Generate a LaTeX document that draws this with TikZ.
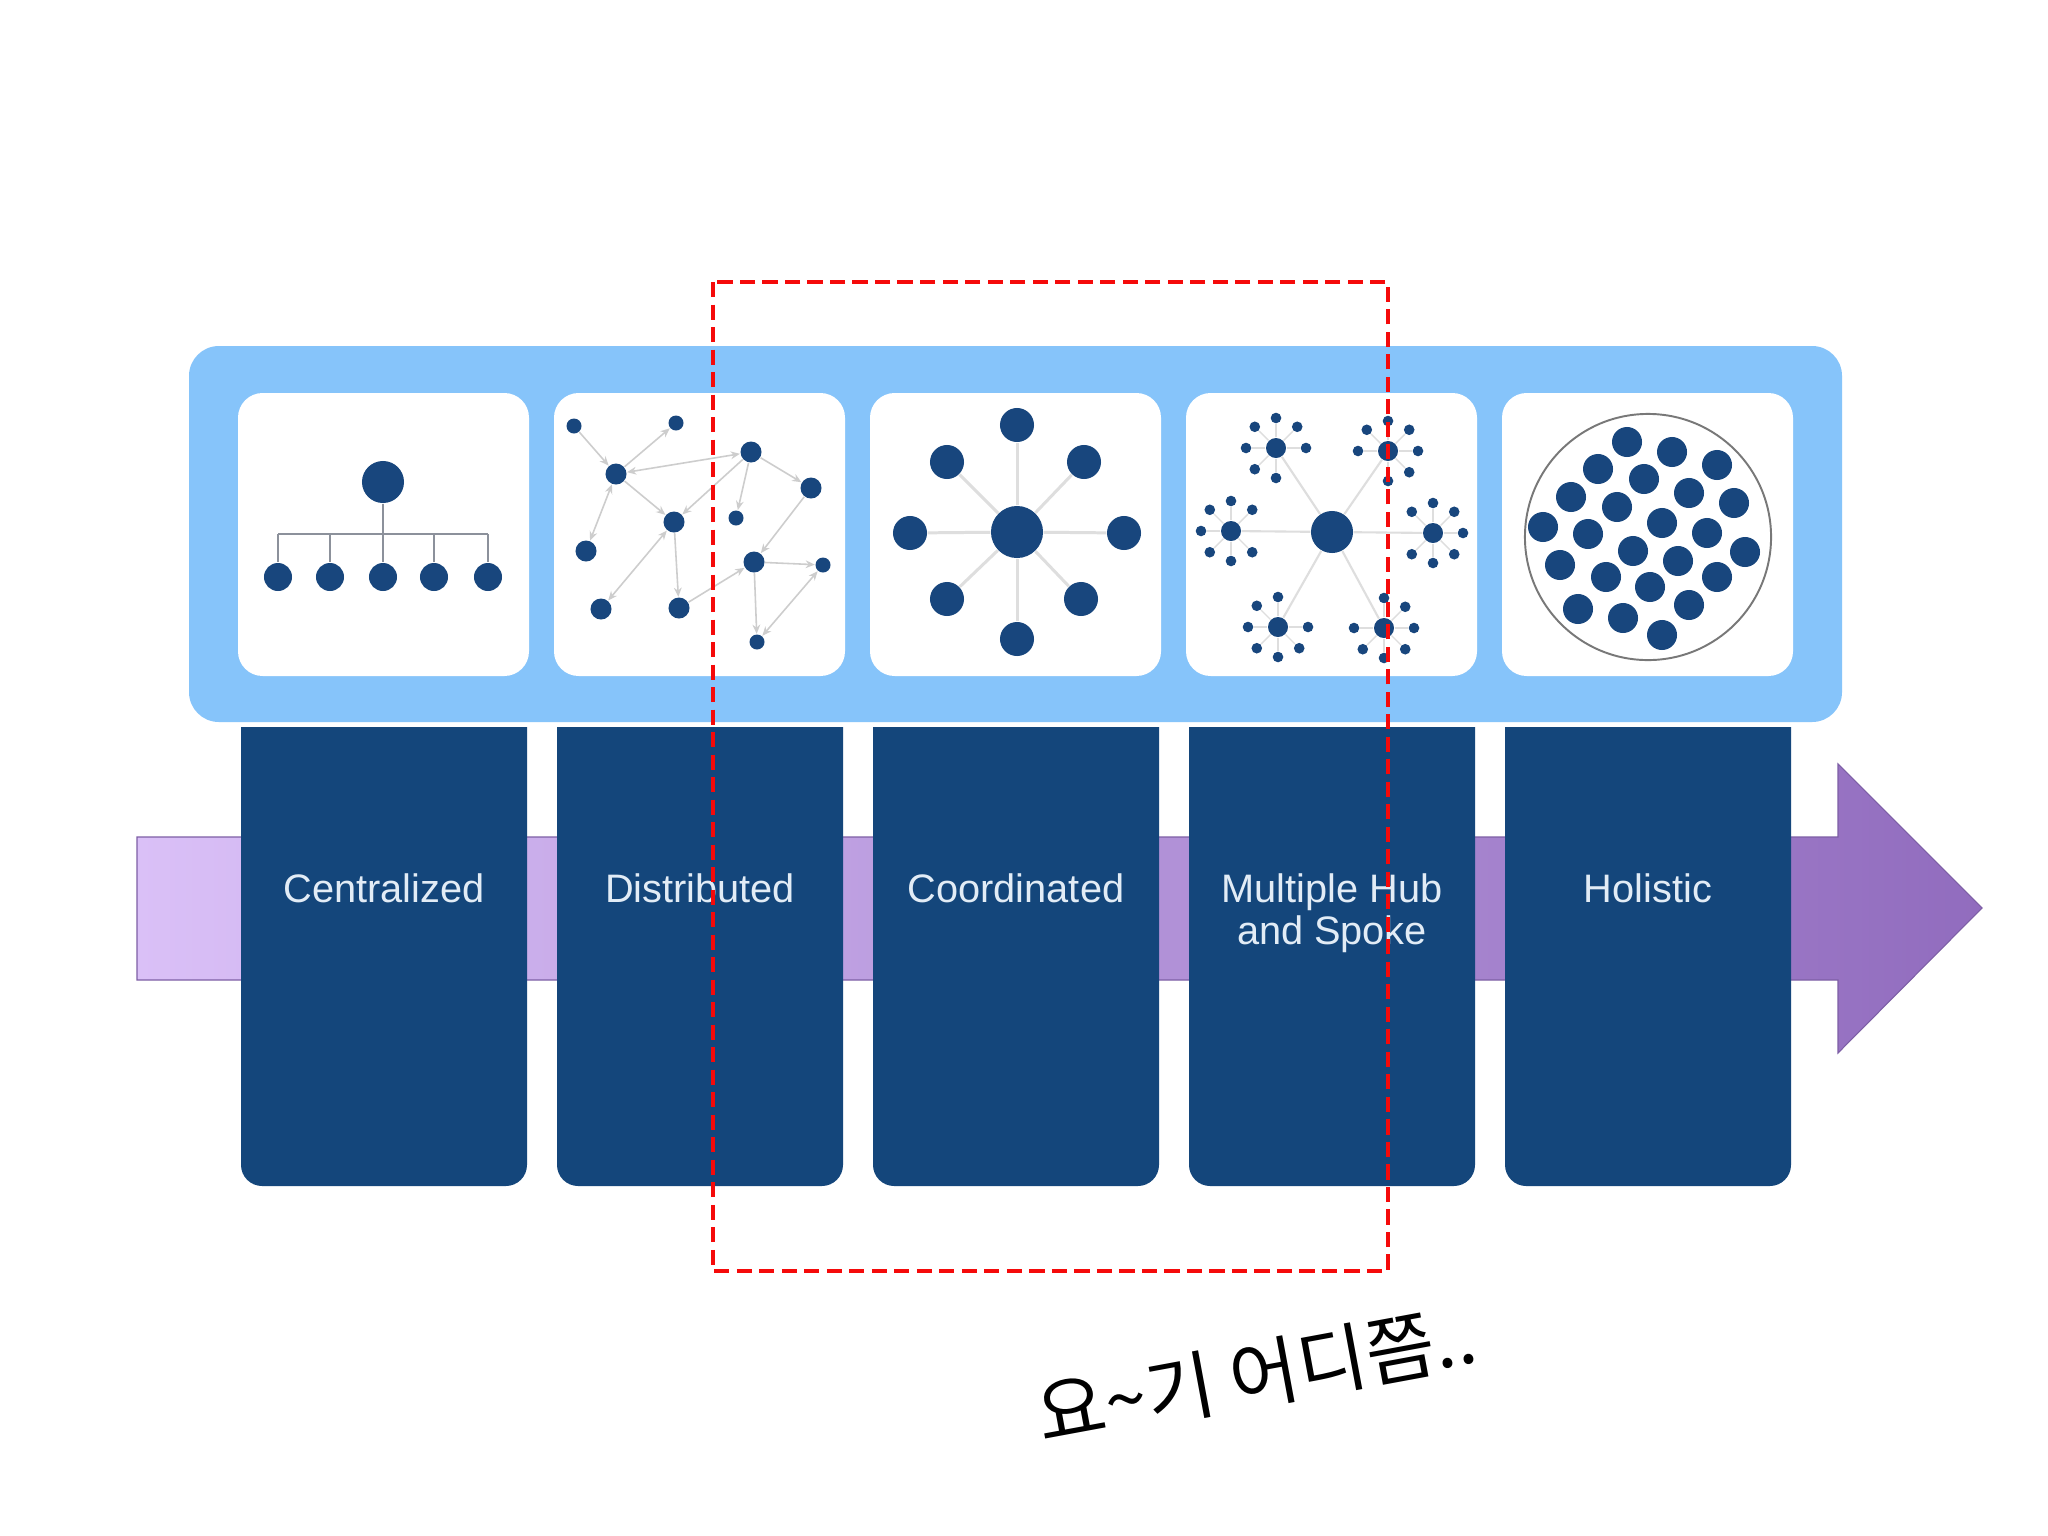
\documentclass[tikz,border=0pt]{standalone}
\usepackage{fontspec}
\setmainfont{Liberation Sans}
\newfontfamily\krfont{Noto Sans CJK KR}
\usetikzlibrary{arrows.meta,calc}

\definecolor{navy}{RGB}{24,70,125}
\definecolor{colblue}{RGB}{20,70,123}
\definecolor{bandblue}{RGB}{134,196,250}
\definecolor{lav}{RGB}{218,192,247}
\definecolor{purp}{RGB}{145,108,190}
\definecolor{purpedge}{RGB}{125,95,165}
\definecolor{lbl}{RGB}{226,236,246}
\definecolor{edgegray}{RGB}{205,205,205}
\definecolor{spokegray}{RGB}{222,222,222}
\definecolor{treegray}{RGB}{140,145,155}
\definecolor{ringgray}{RGB}{120,120,120}
\definecolor{dashred}{RGB}{245,10,10}

\begin{document}
\begin{tikzpicture}[x=0.01cm,y=-0.01cm,
  ndot/.style={circle,fill=navy,inner sep=0pt,minimum size=#1*0.02cm},
  tree/.style={draw=treegray,line width=0.6pt},
  arr/.style={draw=edgegray,line width=0.45pt,-{Stealth[length=2.6pt,width=2.2pt]}},
  barr/.style={draw=edgegray,line width=0.45pt,{Stealth[length=2.6pt,width=2.2pt]}-{Stealth[length=2.6pt,width=2.2pt]}},
  spoke/.style={draw=spokegray,line width=0.85pt},
  hubline/.style={draw=spokegray,line width=0.6pt},
  satline/.style={draw=spokegray,line width=0.4pt},
  lbltext/.style={text=lbl,inner sep=0pt,anchor=north,align=center,font=\fontsize{11.3}{12}\selectfont},
  tilebox/.style={fill=white,rounded corners=7pt}]

\useasboundingbox (0,0) rectangle (2048,1536);
\fill[white] (0,0) rectangle (2048,1536);

% purple timeline arrow
\shade[left color=lav,right color=purp,draw=purpedge,line width=0.3pt]
  (137,837) -- (1838,837) -- (1838,764) -- (1982,908) -- (1838,1053) -- (1838,980) -- (137,980) -- cycle;

% dark columns
\foreach \i in {0,...,4}{
  \begin{scope}
    \clip ({241+316*\i},727) rectangle ({527+316*\i},1200);
    \fill[colblue,rounded corners=6pt] ({241+316*\i},690) rectangle ({527+316*\i},1186);
  \end{scope}
}

% light blue band and tiles
\fill[bandblue,rounded corners=8.5pt] (189,346) rectangle (1842,722);
\foreach \i in {0,...,4}{
  \fill[tilebox] ({238+316*\i},393) rectangle ({529+316*\i},676);
}

% ---------- icon 1: centralized ----------
\node[ndot=21] (c0) at (383,482) {};
\coordinate (cbar) at (383,534);
\foreach \i/\x in {1/278,2/330,3/383,4/434,5/488}{
  \node[ndot=14] (c\i) at (\x,577) {};
}
\draw[tree] (c0) -- (cbar);
\draw[tree] (c1 |- cbar) -- (c5 |- cbar);
\foreach \i in {1,...,5}{ \draw[tree] (c\i |- cbar) -- (c\i); }

% ---------- icon 2: distributed ----------
\node[ndot=7.5]  (dA) at (574,426) {};
\node[ndot=7.5]  (dB) at (676,423) {};
\node[ndot=10.5] (dC) at (616,474) {};
\node[ndot=10.5] (dD) at (751,452) {};
\node[ndot=10.5] (dE) at (811,488) {};
\node[ndot=10.5] (dF) at (674,522) {};
\node[ndot=7.5]  (dG) at (736,518) {};
\node[ndot=10.5] (dH) at (586,551) {};
\node[ndot=10.5] (dI) at (754,562) {};
\node[ndot=7.5]  (dJ) at (823,565) {};
\node[ndot=10.5] (dK) at (601,609) {};
\node[ndot=10.5] (dL) at (679,608) {};
\node[ndot=7.5]  (dM) at (757,642) {};
\draw[arr]  (dA) -- (dC);
\draw[arr]  (dC) -- (dB);
\draw[barr] (dC) -- (dD);
\draw[arr]  (dC) -- (dF);
\draw[barr] (dC) -- (dH);
\draw[arr]  (dD) -- (dF);
\draw[arr]  (dD) -- (dG);
\draw[arr]  (dD) -- (dE);
\draw[arr]  (dE) -- (dI);
\draw[barr] (dF) -- (dK);
\draw[arr]  (dF) -- (dL);
\draw[arr]  (dL) -- (dI);
\draw[arr]  (dI) -- (dJ);
\draw[arr]  (dI) -- (dM);
\draw[barr] (dJ) -- (dM);

% ---------- icon 3: coordinated ----------
\node[ndot=26] (k0) at (1017,532) {};
\foreach \n/\x/\y in {1/1017/425,2/947/462,3/1084/462,4/910/533,5/1124/533,6/947/599,7/1081/599,8/1017/639}{
  \node[ndot=17] (k\n) at (\x,\y) {};
}
\foreach \n in {1,...,8}{ \draw[spoke] (k0) -- (k\n); }

% ---------- icon 4: multiple hub and spoke ----------
\node[ndot=21] (mh) at (1332,532) {};
\foreach \n/\x/\y/\s in {1/1276/448/45,2/1388/451/135,3/1231/531/0,4/1433/533/180,5/1278/627/315,6/1384/628/225}{
  \node[ndot=10] (h\n) at (\x,\y) {};
  \draw[hubline] (mh) -- (h\n);
  \foreach \a in {0,45,...,315}{
    \ifnum\a=\s\relax\else
      \node[ndot=5.3] (h\n-\a) at ($(h\n)+(\a:30)$) {};
      \draw[satline] (h\n) -- (h\n-\a);
    \fi
  }
}

% ---------- icon 5: holistic ----------
\node[circle,draw=ringgray,line width=0.55pt,inner sep=0pt,minimum size=2.46cm] (ring) at (1648,537) {};
\foreach \n/\x/\y in {1/1627/442,2/1672/452,3/1717/465,4/1598/469,5/1644/479,6/1689/493,7/1734/503,
  8/1571/497,9/1617/507,10/1662/523,11/1707/533,12/1543/527,13/1588/534,14/1633/551,15/1678/561,
  16/1745/552,17/1560/565,18/1606/577,19/1650/587,20/1717/577,21/1578/609,22/1623/618,23/1689/605,24/1662/635}{
  \node[ndot=15] (o\n) at (\x,\y) {};
}

% ---------- labels ----------
\node[lbltext] (t1) at (384,873)  {Centralized};
\node[lbltext] (t2) at (700,873)  {Distributed};
\node[lbltext] (t3) at (1016,873) {Coordinated};
\node[lbltext] (t4) at (1332,873) {Multiple Hub\\and Spoke};
\node[lbltext] (t5) at (1648,873) {Holistic};

% ---------- red dashed frame ----------
\draw[dashred,line width=1.4pt,dash pattern=on 4.3pt off 2.1pt] (713,282) rectangle (1388,1271);

% ---------- korean note ----------
\node[rotate=10.5,anchor=base west,inner sep=0pt,font=\krfont\fontsize{21.3}{26}\selectfont] (note) at (1042,1443) {요\textasciitilde 기 어디쯤..};

\end{tikzpicture}
\end{document}
